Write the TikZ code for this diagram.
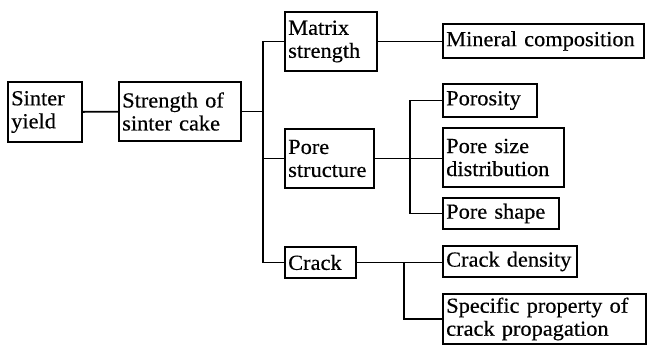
\documentclass[tikz,border=0pt]{standalone}
\usepackage{fontspec}
\setmainfont{Liberation Serif}[FakeStretch=1.04,FakeBold=0.4]
\newcommand{\boxfont}{\fontsize{21.5}{23}\selectfont\hyphenpenalty=10000\relax\exhyphenpenalty=10000\relax}
\begin{document}
\begin{tikzpicture}[x=1pt,y=1pt,
	box/.style={draw,line width=1.8pt,inner xsep=3.5pt,inner ysep=0pt,align=left,
		font=\boxfont},
	link/.style={line width=1.8pt}]
	\useasboundingbox (0,0) rectangle (648,356);
	\node[box,text width=67.5,minimum height=60.5] (yield) at (45,244) {Sinter\\yield};
	\node[box,text width=115.5,minimum height=59.5] (cake) at (180,244.5) {Strength of\\sinter cake};
	\node[box,text width=85.5,minimum height=59.5] (matrix) at (331,314.5) {Matrix\\strength};
	\node[box,text width=82.5,minimum height=59.5] (pore) at (329.5,197.5) {Pore\\structure};
	\node[box,text width=64.5,minimum height=31.5] (crack) at (320.5,93.5) {Crack};
	\node[box,text width=194.5,minimum height=34.5] (mineral) at (543.5,315) {Mineral composition};
	\node[box,text width=87.5,minimum height=33.5] (porosity) at (490,255.5) {Porosity};
	\node[box,text width=114.5,minimum height=59.5] (psd) at (503.5,198.5) {Pore size\\distribution};
	\node[box,text width=109.5,minimum height=31.5] (shape) at (501,142.5) {Pore shape};
	\node[box,text width=127.5,minimum height=31.5] (density) at (510,94.5) {Crack density};
	\node[box,text width=196.5,minimum height=50.5] (spec) at (544.5,37) {Specific property of\\crack propagation};
	\coordinate (trunk) at (263,0);
	\coordinate (poreb) at (410,0);
	\coordinate (crackb) at (404,0);
	% first level
	\draw[link] (yield) -- (cake);
	\draw[link] (cake.east) -- (cake.east -| trunk);
	\draw[link] (matrix.west) -| (crack.west -| trunk) -- (crack.west);
	\draw[link] (pore.west) -- (pore.west -| trunk);
	% second level
	\draw[link] (matrix.east) -- (matrix.east -| mineral.west);
	\draw[link] (porosity.west) -| (shape.west -| poreb) -- (shape.west);
	\draw[link] (pore.east) -- (pore.east -| psd.west);
	\draw[link] (crack.east) -- (crack.east -| density.west);
	\draw[link] (spec.west) -| (crack.east -| crackb);
\end{tikzpicture}
\end{document}
